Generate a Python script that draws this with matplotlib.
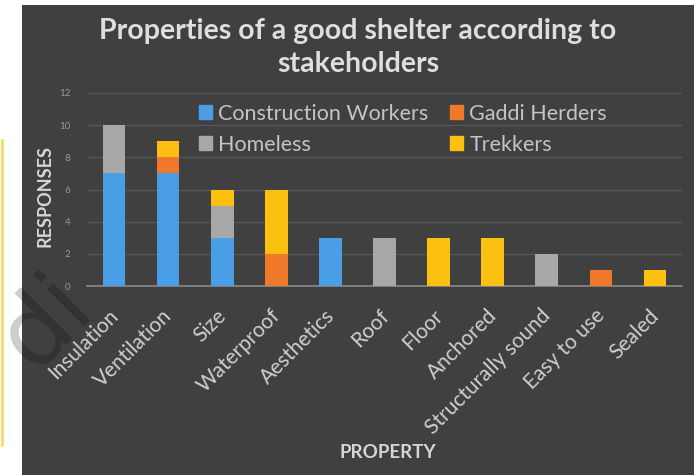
import matplotlib
matplotlib.use("Agg")
import matplotlib.pyplot as plt
from matplotlib.patches import Rectangle, Patch
from matplotlib.transforms import ScaledTranslation
import numpy as np

# survey responses per property, split by stakeholder group
properties = ["Insulation", "Ventilation", "Size", "Waterproof", "Aesthetics", "Roof",
              "Floor", "Anchored", "Structurally sound", "Easy to use", "Sealed"]
construction_workers = [7, 7, 3, 0, 3, 0, 0, 0, 0, 0, 0]
homeless = [3, 0, 2, 0, 0, 3, 0, 0, 2, 0, 0]
gaddi_herders = [0, 1, 0, 2, 0, 0, 0, 0, 0, 1, 0]
trekkers = [0, 1, 1, 4, 0, 0, 3, 3, 0, 0, 1]

series = [
    ("Construction Workers", construction_workers, "#4a9ee6"),
    ("Homeless", homeless, "#a8a8a8"),
    ("Gaddi Herders", gaddi_herders, "#f0782a"),
    ("Trekkers", trekkers, "#fcc010"),
]
# stacking order bottom -> top
stack_order = ["Construction Workers", "Gaddi Herders", "Homeless", "Trekkers"]

plt.rcParams["font.family"] = ["Lato", "DejaVu Sans"]

fig = plt.figure(figsize=(6.94, 4.75), dpi=100)
fig.patch.set_facecolor("white")

# dark chart background
bg = Rectangle((22 / 694, 0), 1 - 22 / 694, 1 - 5 / 475, transform=fig.transFigure,
               facecolor="#404040", edgecolor="none", zorder=-10)
fig.patches.append(bg)
# yellow edge line on the left margin
fig.add_artist(plt.Line2D([1.5 / 694, 1.5 / 694], [1 - 445 / 475, 1 - 140 / 475],
                          transform=fig.transFigure, color="#f5dc6a", lw=2, zorder=-5))

ax = fig.add_axes([87 / 694, 1 - 286 / 475, 595 / 694, 193 / 475])
ax.set_facecolor("none")

x = np.arange(len(properties))
colors = {name: c for name, _, c in series}
values = {name: v for name, v, _ in series}
bottom = np.zeros(len(properties))
for name in stack_order:
    v = np.array(values[name], dtype=float)
    ax.bar(x, v, width=0.42, bottom=bottom, color=colors[name],
           edgecolor="none", zorder=3)
    bottom += v

ax.set_xlim(-0.5, len(properties) - 0.5)
ax.set_ylim(0, 12)
ax.set_yticks(range(0, 13, 2))
ax.yaxis.grid(True, color="#585858", lw=0.9, zorder=0)
ax.set_axisbelow(True)
for s in ["top", "right", "left"]:
    ax.spines[s].set_visible(False)
ax.spines["bottom"].set_color("#8a8a8a")
ax.spines["bottom"].set_linewidth(1.2)
ax.tick_params(axis="y", length=0, labelsize=7, labelcolor="#9a9a9a", pad=12)
ax.tick_params(axis="x", length=0, labelsize=15, labelcolor="#cfcfcf", pad=14)
ax.set_xticks(x)
ax.set_xticklabels(properties, rotation=45, ha="right", rotation_mode="anchor")
shift = ScaledTranslation(-6 / 100, 0, fig.dpi_scale_trans)
for lbl in ax.get_xticklabels():
    lbl.set_transform(lbl.get_transform() + shift)

leg_names = ["Construction Workers", "Homeless", "Gaddi Herders", "Trekkers"]
leg_handles = [Patch(color=colors[n]) for n in leg_names]
ax.legend(leg_handles, leg_names, ncol=2, frameon=False, fontsize=15.5,
          labelcolor="#c4c4c4", handlelength=0.6, handleheight=0.6,
          handletextpad=0.3, columnspacing=1.0, labelspacing=0.5, borderpad=0,
          loc="upper left", bbox_to_anchor=(0.17, 1.0))

fig.text(358 / 694, 1 - 31 / 475, "Properties of a good shelter according to",
         ha="center", va="center", fontsize=20.5, fontweight="bold", color="#dedede")
fig.text(358 / 694, 1 - 64 / 475, "stakeholders",
         ha="center", va="center", fontsize=20.5, fontweight="bold", color="#dedede")
fig.text(45 / 694, 1 - 196 / 475, "RESPONSES", rotation=90, ha="center", va="center",
         fontsize=13, fontweight="bold", color="#d6d6d6")
fig.text(388 / 694, 1 - 452 / 475, "PROPERTY", ha="center", va="center",
         fontsize=13.5, fontweight="bold", color="#d6d6d6")

# faint diagonal watermark on the left edge
fig.text(34 / 694, 1 - 372 / 475, "di", rotation=45, rotation_mode="anchor",
         ha="left", va="baseline", fontsize=70, family="DejaVu Sans",
         color="black", alpha=0.2, zorder=10)

fig.savefig("out.png", dpi=100)
